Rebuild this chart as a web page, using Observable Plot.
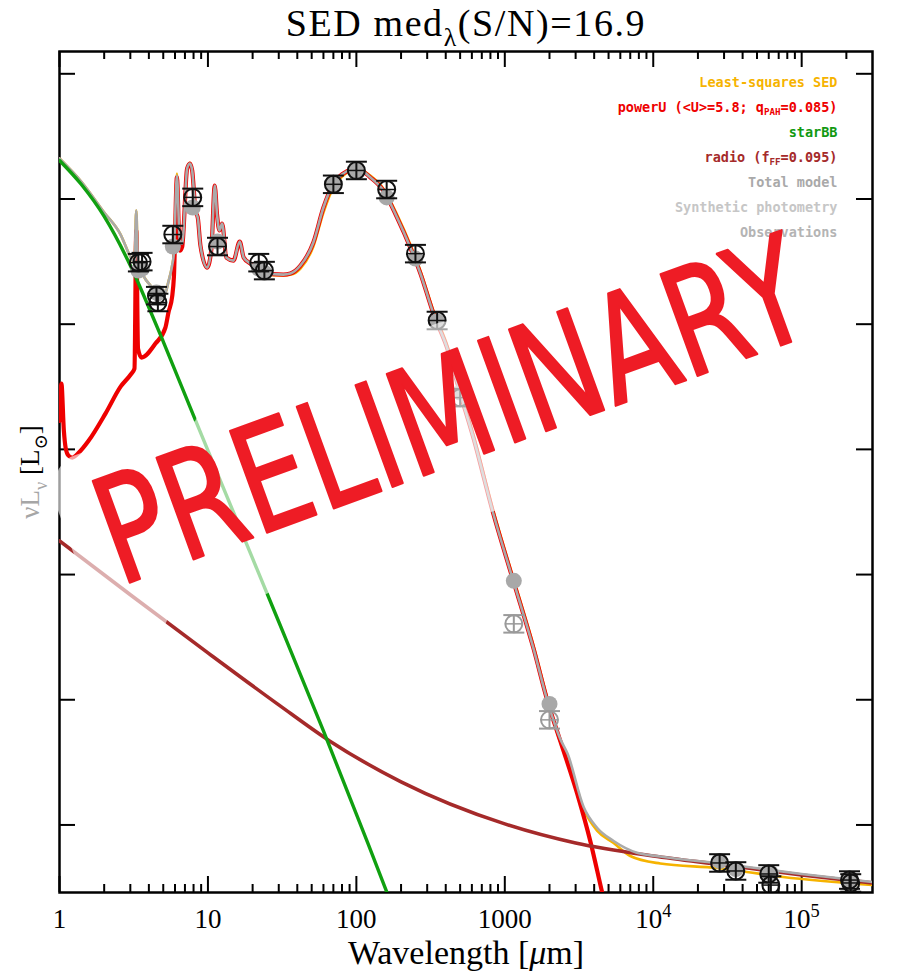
<!DOCTYPE html>
<html><head><meta charset="utf-8">
<script src="https://cdn.jsdelivr.net/npm/d3@7"></script>
<script src="https://cdn.jsdelivr.net/npm/@observablehq/plot@0.6"></script>
<style>
html,body{margin:0;padding:0;background:#fff;}
#chart{width:899px;height:974px;}
</style></head><body><div id="chart"></div>
<script>
// ---------------- data (wavelength in micron, nuL_nu in L_sun) ----------------
const starWl = [1, 1.4, 2, 3, 4, 5, 8, 15, 30, 60, 120, 200];
const starL  = [2.03e11, 1.31e11, 7.25e10, 2.94e10, 1.36e10, 7.26e9, 1.86e9, 3.06e8, 4.20e7, 5.64e6, 7.05e5, 1.48e5];

const dustWl = [1.0,1.03,1.07,1.10,1.15,1.22,1.35,1.57,2.04,2.58,3.01,3.20,3.29,3.38,3.57,4.43,5.17,5.42,5.74,5.90,6.18,6.46,6.71,7.24,7.56,7.83,8.24,8.56,8.90,9.88,10.56,11.11,11.53,11.95,12.46,13.32,14.85,16.37,17.42,19.33,23.6,32.2,35.9,42.0,51.3,60.0,70.0,81.7,101,124,152,188,231,270,330,408,501,614,837,1141,1556,1963,2364,3078,3765,4536,5133];
const dustL  = [1.69e9,3.35e9,1.41e9,1.03e9,8.91e8,8.59e8,9.42e8,1.17e9,1.93e9,3.17e9,3.95e9,4.42e9,5.60e10,6.38e9,5.41e9,7.00e9,9.40e9,1.24e10,1.66e10,2.40e10,1.49e11,3.87e10,4.17e10,1.75e11,1.92e11,1.69e11,8.09e10,6.98e10,4.25e10,2.83e10,4.02e10,1.28e11,7.38e10,5.60e10,6.37e10,3.40e10,3.22e10,4.57e10,3.40e10,3.05e10,2.58e10,2.49e10,2.54e10,2.94e10,4.49e10,8.55e10,1.33e11,1.60e11,1.75e11,1.49e11,1.17e11,7.11e10,4.09e10,2.54e10,1.22e10,6.50e9,2.79e9,1.24e9,3.06e8,8.91e7,2.60e7,9.27e6,4.69e6,1.77e6,7.45e5,2.86e5,1.56e5];

const radioWl = [1, 3, 10, 30, 66, 200, 1000, 3000, 1e4, 3e4, 1e5, 3e5];
const radioL  = [1.86e8, 6.90e7, 2.37e7, 9.10e6, 4.69e6, 2.21e6, 1.02e6, 7.18e5, 5.65e5, 4.79e5, 3.98e5, 3.44e5];

const totWl = [1,1.4,2,2.58,3.0,3.2,3.29,3.38,3.57,4.21,4.79,5.17,5.42,5.74,5.90,6.18,6.46,6.71,7.24,7.56,7.83,8.24,8.56,8.90,9.88,10.56,11.11,11.53,11.95,12.46,13.32,14.85,16.37,17.42,19.33,23.6,32.2,35.9,42.0,51.3,60.0,70.0,81.7,101,124,152,188,231,270,330,408,501,614,837,1141,1556,1963,2364,2649,3396,4198,5408,7762,11140,30000,100000,300000];
const totL  = [2.11e11,1.38e11,7.80e10,5.20e10,3.47e10,3.10e10,8.09e10,2.99e10,2.58e10,1.96e10,1.73e10,1.79e10,2.19e10,2.94e10,3.73e10,1.54e11,4.66e10,4.40e10,1.75e11,1.92e11,1.69e11,8.09e10,6.98e10,4.25e10,2.83e10,4.02e10,1.28e11,7.38e10,5.60e10,6.37e10,3.40e10,3.22e10,4.57e10,3.40e10,3.05e10,2.58e10,2.49e10,2.54e10,2.94e10,4.49e10,8.55e10,1.33e11,1.60e11,1.75e11,1.49e11,1.17e11,7.11e10,4.09e10,2.54e10,1.22e10,6.50e9,2.79e9,1.24e9,3.06e8,8.91e7,2.60e7,9.27e6,4.87e6,3.70e6,1.39e6,9.46e5,7.45e5,6.00e5,5.60e5,4.88e5,4.06e5,3.50e5];

const lsqWl = [1,1.4,2,2.58,3.0,3.2,3.29,3.38,3.57,4.21,4.79,5.17,5.42,5.74,5.90,6.18,6.46,6.71,7.24,7.56,7.83,8.24,8.56,8.90,9.88,10.56,11.11,11.53,11.95,12.46,13.32,14.85,16.37,17.42,19.33,23.6,32.2,35.9,42.0,51.3,60.0,70.0,81.7,101,124,152,188,231,270,330,408,501,614,837,1141,1556,1963,2364,2649,3396,4198,5408,7000,11140,26900,75000,300000];
const lsqL  = [2.11e11,1.38e11,7.80e10,5.20e10,3.47e10,3.10e10,8.09e10,2.99e10,2.58e10,1.96e10,1.73e10,1.79e10,2.19e10,2.94e10,3.73e10,1.60e11,4.66e10,4.40e10,1.75e11,1.95e11,1.69e11,8.09e10,6.98e10,4.25e10,2.83e10,4.02e10,1.28e11,7.38e10,5.60e10,6.37e10,3.40e10,3.22e10,4.57e10,3.40e10,3.05e10,2.50e10,2.45e10,2.48e10,2.78e10,4.17e10,7.80e10,1.24e11,1.54e11,1.75e11,1.54e11,1.21e11,7.52e10,4.33e10,2.68e10,1.29e10,6.87e9,2.94e9,1.31e9,3.24e8,9.42e7,2.75e7,9.62e6,4.60e6,3.50e6,1.34e6,8.96e5,7.18e5,5.65e5,4.92e5,4.53e5,3.84e5,3.31e5];

const obsWl   = [3.4,3.6,4.5,4.6,5.8,7.9,11.6,22,24,70,100,160,250,350,500,1150,2000,2.8e4,3.6e4,6.0e4,6.2e4,2.1e5,2.14e5];
const obsL    = [3.10e10,3.16e10,1.69e10,1.49e10,5.20e10,1.03e11,4.17e10,3.10e10,2.68e10,1.31e11,1.69e11,1.19e11,3.66e10,1.07e10,2.59e9,4.04e7,6.91e6,4.97e5,4.29e5,4.06e5,3.31e5,3.63e5,3.44e5];
const obsErr  = [0.07,0.07,0.07,0.07,0.07,0.07,0.07,0.07,0.07,0.07,0.07,0.07,0.07,0.07,0.07,0.07,0.07,0.07,0.07,0.07,0.07,0.07,0.07]; // dex
const obsUsed = [1,1,1,1,1,1,1,1,1,1,1,1,1,1,1,0,0,1,1,1,1,1,1];

const synWl = [3.4,3.6,4.5,4.6,5.8,7.9,11.6,22,24,70,100,160,250,350,500,1150,2000,2.8e4,3.6e4,6.0e4,6.2e4,2.1e5,2.14e5];
const synL  = [2.68e10,2.78e10,1.79e10,1.76e10,4.17e10,8.55e10,4.57e10,2.78e10,2.58e10,1.31e11,1.69e11,1.03e11,3.34e10,1.05e10,2.84e9,8.91e7,9.27e6,5.15e5,4.45e5,4.13e5,4.12e5,3.63e5,3.60e5];

const xTickValues = [1, 10, 100, 1000, 1e4, 1e5];
const xTickLabels = ["1", "10", "100", "1000", "10^{4}", "10^{5}"];
const yTickValues = [1e6, 1e7, 1e8, 1e9, 1e10, 1e11, 1e12];

const legendLabels = ["Least-squares SED", "powerU (<U>=5.8; q_{PAH}=0.085)", "starBB", "radio (f_{FF}=0.095)", "Total model", "Synthetic photometry", "Observations"];
const legendColors = ["#f6b300", "#ee0000", "#119911", "#a52a2a", "#a9a9a9", "#c6c6c6", "#b4b4b4"];

const titleText = "SED med_{λ}(S/N)=16.9";
const xLabel = "Wavelength [*{μ}m]";
const yLabel = "νL_{ν} [L_{⊙}]";
const watermark = "PRELIMINARY";

// ---------------- build ----------------
const W = 899, H = 974, mL = 59, mR = 27, mT = 51, mB = 82;
const fw = W - mL - mR, fh = H - mT - mB;
const serif = "'Liberation Serif','DejaVu Serif',serif";
const mono = "'DejaVu Sans Mono','Liberation Mono',monospace";

const rows = (wl, L) => wl.map((w, i) => ({w, L: L[i]}));
const star = rows(starWl, starL), dust = rows(dustWl, dustL), radio = rows(radioWl, radioL);
const tot = rows(totWl, totL), lsq = rows(lsqWl, lsqL), syn = rows(synWl, synL);
const obs = obsWl.map((w, i) => ({w, L: obsL[i], lo: obsL[i] * 10 ** -obsErr[i], hi: obsL[i] * 10 ** obsErr[i],
  c: obsUsed[i] ? "#111" : "#9a9a9a"}));

const xMinor = [];
for (let e = 0; e <= 5; e++) for (let k = 2; k <= 9; k++) { const v = k * 10 ** e; if (v < 3e5) xMinor.push(v); }

const hbar = {draw(ctx, size) { const w = Math.sqrt(size / Math.PI); ctx.moveTo(-w, 0); ctx.lineTo(w, 0); }};

const wm = {frameAnchor: "top-left", dx: 452 - mL, dy: 414 - mT, rotate: -20, fontSize: 148,
  fontFamily: "'DejaVu Sans',sans-serif", textAnchor: "middle", lineAnchor: "middle"};

const svg = Plot.plot({
  width: W, height: H, marginLeft: mL, marginRight: mR, marginTop: mT, marginBottom: mB,
  x: {type: "log", domain: [1, 3e5], axis: null},
  y: {type: "log", domain: [2.887e5, 1.507e12], axis: null},
  style: {background: "white", fontFamily: serif, overflow: "visible"},
  marks: [
    Plot.frame({stroke: "black", strokeWidth: 2.5}),
    Plot.tickX(xTickValues, {x: d => d, insetTop: fh - 16, strokeWidth: 2}),
    Plot.tickX(xMinor, {x: d => d, insetTop: fh - 8, strokeWidth: 2}),
    Plot.tickX(xTickValues, {x: d => d, insetBottom: fh - 16, strokeWidth: 2}),
    Plot.tickX(xMinor, {x: d => d, insetBottom: fh - 8, strokeWidth: 2}),
    Plot.tickY(yTickValues, {y: d => d, insetRight: fw - 16, strokeWidth: 2}),
    Plot.tickY(yTickValues, {y: d => d, insetLeft: fw - 16, strokeWidth: 2}),
    Plot.text(xTickValues, {x: d => d, text: (d, i) => xTickLabels[i], frameAnchor: "bottom", dy: 27,
      fontSize: 27, fontFamily: serif, lineAnchor: "middle"}),
    Plot.text([xLabel], {text: d => d, frameAnchor: "bottom", dy: 61, fontSize: 34, fontFamily: serif, lineAnchor: "middle"}),

    Plot.line(lsq, {x: "w", y: "L", stroke: legendColors[0], strokeWidth: 2.6, curve: "monotone-x", clip: true}),
    Plot.line(dust, {x: "w", y: "L", stroke: legendColors[1], strokeWidth: 4.2, curve: "monotone-x", clip: true}),
    Plot.line(radio, {x: "w", y: "L", stroke: legendColors[3], strokeWidth: 3.6, curve: "monotone-x", clip: true}),
    Plot.line(tot, {x: "w", y: "L", stroke: "#aaaaaa", strokeWidth: 2.6, curve: "monotone-x", clip: true}),
    Plot.line(star, {x: "w", y: "L", stroke: "#10a010", strokeWidth: 3.4, curve: "monotone-x", clip: true}),

    Plot.dot(syn, {x: "w", y: "L", r: 8, fill: "#a8a8a8", stroke: "none", clip: true}),
    Plot.link(obs, {x1: "w", x2: "w", y1: "lo", y2: "hi", stroke: "c", strokeWidth: 2, clip: true}),
    Plot.dot(obs, {x: "w", y: "lo", symbol: hbar, r: 10.5, stroke: "c", fill: "none", strokeWidth: 2, clip: true}),
    Plot.dot(obs, {x: "w", y: "hi", symbol: hbar, r: 10.5, stroke: "c", fill: "none", strokeWidth: 2, clip: true}),
    Plot.dot(obs, {x: "w", y: "L", symbol: hbar, r: 8.5, stroke: "c", fill: "none", strokeWidth: 1.5, clip: true}),
    Plot.dot(obs, {x: "w", y: "L", r: 8.5, stroke: "c", fill: "none", strokeWidth: 2, clip: true}),

    // watermark halo (slightly below), then labels, then the watermark itself
    Plot.text([watermark], {...wm, dx: wm.dx - 4, dy: wm.dy + 16, text: d => d, fill: "white", stroke: "white",
      strokeWidth: 88, strokeLinejoin: "round", opacity: 0.62}),
    Plot.text([yLabel], {text: d => d, frameAnchor: "left", dx: -29, rotate: -90, fontSize: 27,
      fontFamily: serif, textAnchor: "middle", lineAnchor: "middle"}),
    Plot.text([titleText], {text: d => d, frameAnchor: "top", dy: -28, fontSize: 38, fontFamily: serif,
      textAnchor: "middle", lineAnchor: "middle"}),
    ...legendLabels.map((lab, i) => Plot.text([lab], {text: d => d, frameAnchor: "top-right", dx: -35,
      dy: 30.7 + 25 * i, textAnchor: "end", lineAnchor: "middle", fill: legendColors[i], fontSize: 13.5,
      fontWeight: "bold", fontFamily: mono})),
    Plot.text([watermark], {...wm, text: d => d, fill: "#ee1c25", stroke: "#ee1c25", strokeWidth: 2.5,
      strokeLinejoin: "round"})
  ]
});

document.getElementById("chart").appendChild(svg);

// rich text: _{sub}, ^{sup}, *{italic}
const NS = "http://www.w3.org/2000/svg";
function richify(el) {
  const raw = el.textContent;
  if (!/[_^*]\{/.test(raw)) return;
  const fs = parseFloat(getComputedStyle(el).fontSize) || 16;
  const parts = raw.split(/([_^*]\{[^}]*\})/).filter(s => s.length);
  el.textContent = "";
  let cur = 0;
  for (const p of parts) {
    let target = 0, txt = p, small = false, ital = false;
    if (p.startsWith("_{")) { target = fs * 0.28; txt = p.slice(2, -1); small = true; }
    else if (p.startsWith("^{")) { target = -fs * 0.42; txt = p.slice(2, -1); small = true; }
    else if (p.startsWith("*{")) { txt = p.slice(2, -1); ital = true; }
    const ts = document.createElementNS(NS, "tspan");
    if (target - cur !== 0) ts.setAttribute("dy", target - cur);
    cur = target;
    if (small) ts.setAttribute("font-size", fs * 0.68);
    if (ital) ts.setAttribute("font-style", "italic");
    ts.textContent = txt;
    el.appendChild(ts);
  }
}
d3.select(svg).selectAll("text").each(function () {
  const t = this.textContent;
  if (t === watermark) {
    // horizontally condensed lettering
    const tr = this.getAttribute("transform") || "";
    this.setAttribute("transform", tr + " scale(0.76,1)");
    return;
  }
  const isY = t === yLabel, isTitle = t === titleText;
  richify(this);
  if (isTitle) this.setAttribute("letter-spacing", "1.6");
  if (isY) {
    const ts = this.querySelectorAll("tspan");
    ts.forEach((s, i) => s.setAttribute("fill", i < 2 ? "#a6a6a6" : "#000"));
  }
});
</script>
</body></html>
